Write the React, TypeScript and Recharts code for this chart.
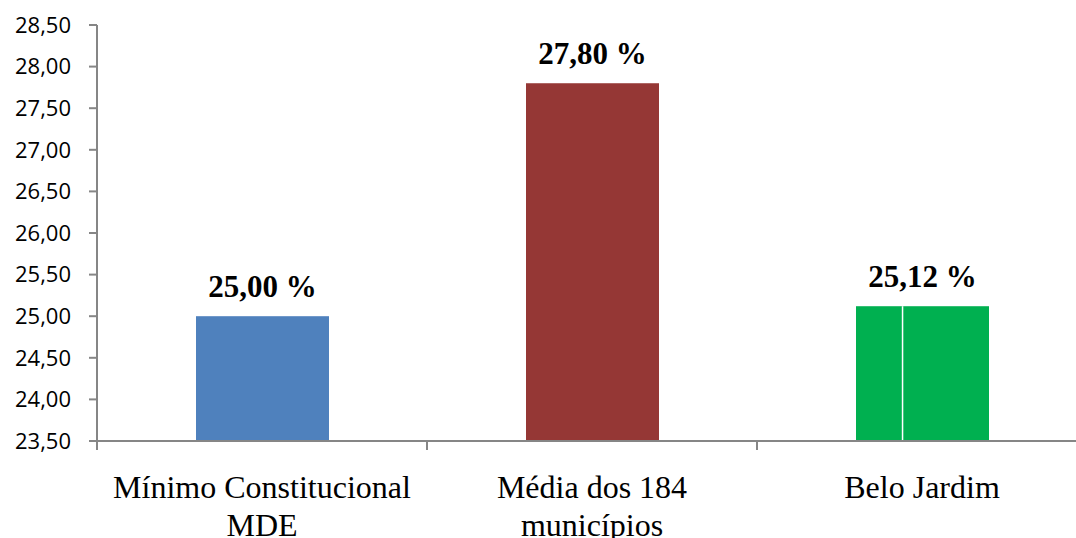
import { BarChart, Bar, XAxis, YAxis, Cell, LabelList } from 'recharts';

const categories = [
  ['Mínimo Constitucional', 'MDE'],
  ['Média dos 184', 'municípios'],
  ['Belo Jardim'],
];
const percentages = [25.0, 27.8, 25.12];
const barColors = ['#4f81bd', '#953735', '#00b050'];
const yTicks = [23.5, 24, 24.5, 25, 25.5, 26, 26.5, 27, 27.5, 28, 28.5];

const data = categories.map((lines, i) => ({
  name: lines.join(' '),
  lines,
  value: percentages[i],
}));

const AXIS_COLOR = '#868686';
const fmt = (v: number) => v.toFixed(2).replace('.', ',');

// category label plus tick marks on the band edges
function CategoryTick(props: any) {
  const { x, y, payload, index, visibleTicksCount } = props;
  const half = payload.offset ?? 165;
  const lines = data[index]?.lines ?? [payload.value];
  return (
    <g>
      <line x1={x - half} y1={y} x2={x - half} y2={y + 9} stroke={AXIS_COLOR} strokeWidth={2} />
      {index === visibleTicksCount - 1 && (
        <line x1={x + half} y1={y} x2={x + half} y2={y + 9} stroke={AXIS_COLOR} strokeWidth={2} />
      )}
      <text
        x={x}
        textAnchor="middle"
        fontFamily="'Liberation Serif', 'Times New Roman', serif"
        fontSize={32}
        fill="#000"
      >
        {lines.map((l: string, i: number) => (
          <tspan key={i} x={x} y={y + 57 + i * 38}>
            {l}
          </tspan>
        ))}
      </text>
    </g>
  );
}

// the last bar has a thin white seam in it
function BarShape(props: any) {
  const { x, y, width, height, fill, index } = props;
  return (
    <g>
      <rect x={x} y={y} width={width} height={height} fill={fill} />
      {index === 2 && (
        <line
          x1={x + width * 0.35}
          y1={y}
          x2={x + width * 0.35}
          y2={y + height}
          stroke="#fff"
          strokeWidth={1.5}
        />
      )}
    </g>
  );
}

export default function App() {
  return (
    <div
      style={{
        position: 'fixed',
        left: 0,
        top: 0,
        width: 1076,
        height: 538,
        overflow: 'hidden',
        background: '#fff',
      }}
    >
      <BarChart
        width={1100}
        height={538}
        data={data}
        margin={{ top: 25, right: 13, bottom: 0, left: 0 }}
      >
        <YAxis
          width={97}
          domain={[23.5, 28.5]}
          ticks={yTicks}
          allowDataOverflow
          tickFormatter={fmt}
          stroke={AXIS_COLOR}
          strokeWidth={2}
          tickSize={8}
          tickMargin={18}
          tick={{ fill: '#000', fontSize: 22, fontFamily: "'Open Sans', sans-serif" }}
        />
        <XAxis
          dataKey="name"
          height={97}
          stroke={AXIS_COLOR}
          strokeWidth={2}
          tickLine={false}
          tickSize={0}
          tickMargin={0}
          interval={0}
          tick={<CategoryTick />}
        />
        <Bar dataKey="value" barSize={133} isAnimationActive={false} shape={<BarShape />}>
          {data.map((d, i) => (
            <Cell key={d.name} fill={barColors[i]} />
          ))}
          <LabelList
            dataKey="value"
            position="top"
            offset={19}
            formatter={(v: any) => `${fmt(Number(v))} %`}
            style={{
              fill: '#000',
              fontSize: 31,
              fontWeight: 'bold',
              fontFamily: "'Liberation Serif', 'Times New Roman', serif",
            }}
          />
        </Bar>
      </BarChart>
    </div>
  );
}
